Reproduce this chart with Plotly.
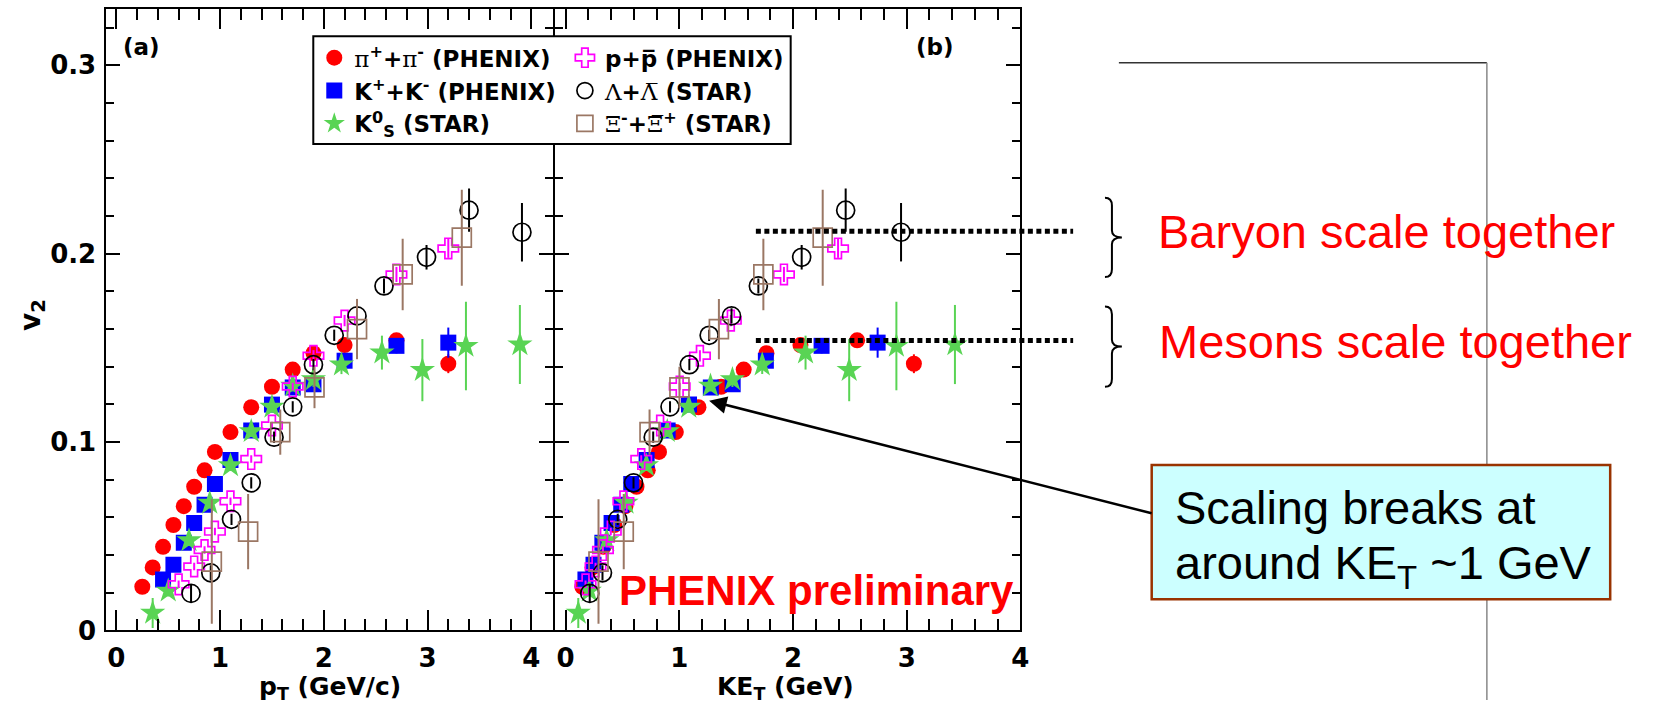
import plotly.graph_objects as go

W, H = 1655, 715

# ---------------- v2 data ----------------
# pi+ + pi- (PHENIX)
pi_pt = [0.25, 0.35, 0.45, 0.55, 0.65, 0.75, 0.85, 0.95, 1.1, 1.3, 1.5, 1.7, 1.9, 2.2, 2.7, 3.2]
pi_ket = [0.147, 0.237, 0.332, 0.428, 0.525, 0.623, 0.722, 0.821, 0.969, 1.168, 1.367, 1.566, 1.766, 2.065, 2.564, 3.063]
pi_v2 = [0.0232, 0.0335, 0.0444, 0.056, 0.066, 0.0763, 0.085, 0.0948, 0.1053, 0.1185, 0.1294, 0.1385, 0.1472, 0.1515, 0.154, 0.1416]
pi_err = [0.001, 0.001, 0.001, 0.001, 0.001, 0.001, 0.001, 0.001, 0.001, 0.001, 0.002, 0.002, 0.002, 0.003, 0.003, 0.005]

# K+ + K- (PHENIX)
k_pt = [0.45, 0.55, 0.65, 0.75, 0.85, 0.95, 1.1, 1.3, 1.5, 1.7, 1.9, 2.2, 2.7, 3.2]
k_ket = [0.174, 0.245, 0.323, 0.404, 0.489, 0.577, 0.712, 0.897, 1.085, 1.277, 1.469, 1.761, 2.251, 2.744]
k_v2 = [0.0271, 0.0349, 0.0466, 0.057, 0.0668, 0.0777, 0.0905, 0.1062, 0.1199, 0.129, 0.1307, 0.1432, 0.1511, 0.1528]
k_err = [0.002, 0.002, 0.002, 0.002, 0.002, 0.002, 0.002, 0.002, 0.002, 0.003, 0.003, 0.003, 0.004, 0.008]

# K0s (STAR)
ks_pt = [0.35, 0.5, 0.7, 0.9, 1.1, 1.3, 1.5, 1.7, 1.9, 2.17, 2.56, 2.95, 3.37, 3.89]
ks_ket = [0.111, 0.208, 0.361, 0.531, 0.710, 0.894, 1.083, 1.274, 1.467, 1.729, 2.110, 2.494, 2.909, 3.424]
ks_v2 = [0.0093, 0.0211, 0.0478, 0.0677, 0.0876, 0.1057, 0.1187, 0.1299, 0.1333, 0.1411, 0.1475, 0.1382, 0.151, 0.1518]
ks_err = [0.008, 0.003, 0.003, 0.003, 0.003, 0.003, 0.003, 0.003, 0.004, 0.005, 0.009, 0.0165, 0.0235, 0.021]

# p + pbar (PHENIX)
p_pt = [0.6, 0.75, 0.85, 0.95, 1.1, 1.3, 1.5, 1.7, 1.9, 2.2, 2.7, 3.2]
p_ket = [0.175, 0.263, 0.328, 0.397, 0.508, 0.665, 0.831, 1.003, 1.181, 1.453, 1.920, 2.396]
p_v2 = [0.0245, 0.034, 0.0427, 0.0525, 0.0686, 0.091, 0.1088, 0.1295, 0.1458, 0.1645, 0.189, 0.2028]
p_err = [0.002, 0.002, 0.002, 0.002, 0.002, 0.002, 0.002, 0.002, 0.003, 0.003, 0.004, 0.005]

# Lambda + Lambdabar (STAR)
lam_pt = [0.72, 0.91, 1.11, 1.3, 1.52, 1.7, 1.9, 2.1, 2.32, 2.58, 2.99, 3.4, 3.91]
lam_ket = [0.212, 0.324, 0.458, 0.597, 0.770, 0.918, 1.088, 1.262, 1.459, 1.695, 2.076, 2.463, 2.950]
lam_v2 = [0.0197, 0.0306, 0.059, 0.0784, 0.1026, 0.1187, 0.1411, 0.1567, 0.167, 0.1829, 0.1981, 0.2231, 0.2114]
lam_err = [0.005, 0.004, 0.003, 0.003, 0.003, 0.003, 0.003, 0.003, 0.004, 0.004, 0.0065, 0.0115, 0.0155]

# Xi- + Xibar+ (STAR)
xi_pt = [0.92, 1.27, 1.58, 1.91, 2.32, 2.76, 3.33]
xi_ket = [0.289, 0.511, 0.738, 1.001, 1.348, 1.739, 2.261]
xi_v2 = [0.0366, 0.0525, 0.1053, 0.129, 0.160, 0.189, 0.2085]
xi_err = [0.033, 0.02, 0.012, 0.011, 0.016, 0.019, 0.0255]

# scaling levels marked on the KE_T panel
baryon_level = 0.2119
meson_level = 0.1539

x_ticks = [0, 1, 2, 3, 4]
y_ticks = [0, 0.1, 0.2, 0.3]

GREEK = '<span style="font-family:DejaVu Serif;font-weight:normal">'
series = [
    dict(name=GREEK + "π</span><sup>+</sup>+" + GREEK + "π</span><sup>-</sup> (PHENIX)",
         pt=pi_pt, ket=pi_ket, v2=pi_v2, err=pi_err,
         symbol="circle", color="#FF0000", size=16, legend="legend"),
    dict(name="K<sup>+</sup>+K<sup>-</sup> (PHENIX)",
         pt=k_pt, ket=k_ket, v2=k_v2, err=k_err,
         symbol="square", color="#0000FF", size=16, legend="legend"),
    dict(name="K<sup>0</sup><sub>S</sub> (STAR)",
         pt=ks_pt, ket=ks_ket, v2=ks_v2, err=ks_err,
         symbol="star", color="#59D454", size=19, legend="legend"),
    dict(name="p+p\u0305 (PHENIX)",
         pt=p_pt, ket=p_ket, v2=p_v2, err=p_err,
         symbol="cross-open", color="#FF00FF", size=17, legend="legend2"),
    dict(name=GREEK + "Λ</span>+" + GREEK + "Λ\u0305</span> (STAR)",
         pt=lam_pt, ket=lam_ket, v2=lam_v2, err=lam_err,
         symbol="circle-open", color="#000000", size=18, legend="legend2"),
    dict(name=GREEK + "Ξ</span><sup>-</sup>+" + GREEK + "Ξ\u0305</span><sup>+</sup> (STAR)",
         pt=xi_pt, ket=xi_ket, v2=xi_v2, err=xi_err,
         symbol="square-open", color="#9B7764", size=19, legend="legend2"),
]


def px(x):
    return x / W


def py(y):
    return 1 - y / H


fig = go.Figure()
for s in series:
    for xs, xa, ya, show in ((s["pt"], "x", "y", True), (s["ket"], "x2", "y2", False)):
        fig.add_trace(go.Scatter(
            x=xs, y=s["v2"], mode="markers", xaxis=xa, yaxis=ya,
            name=s["name"], legend=s["legend"], legendgroup=s["name"], showlegend=show,
            marker=dict(symbol=s["symbol"], size=s["size"], color=s["color"],
                        line=dict(color=s["color"], width=1.7 if "open" in s["symbol"] else 0)),
            error_y=dict(type="data", array=s["err"], color=s["color"], thickness=2, width=0),
        ))

TICKFONT = dict(family="DejaVu Sans", size=26, weight="bold", color="black")

xcommon = dict(showline=True, linewidth=2, linecolor="black", mirror="allticks",
               ticks="inside", ticklen=20, tickwidth=2, tickcolor="black",
               tickmode="array", tickvals=x_ticks, showgrid=False, zeroline=False,
               tickfont=TICKFONT, ticklabelstandoff=3,
               minor=dict(ticks="inside", ticklen=11, tickwidth=1.5, tickcolor="black",
                          dtick=0.2, tick0=0, showgrid=False))
ycommon = dict(showline=True, linewidth=2, linecolor="black", mirror="allticks",
               ticks="inside", ticklen=14, tickwidth=2, tickcolor="black",
               tickmode="array", tickvals=y_ticks, showgrid=False, zeroline=False,
               range=[0, 0.33], domain=[py(644), py(9)],
               tickfont=TICKFONT, ticklabelstandoff=3,
               minor=dict(ticks="inside", ticklen=8, tickwidth=1.5, tickcolor="black",
                          dtick=0.02, tick0=0, showgrid=False))

LEGFONT = dict(family="DejaVu Sans", size=23, weight="bold", color="black")

# the two panels share one frame line at x = 557 px
fig.update_layout(
    width=W, height=H, margin=dict(l=0, r=0, t=0, b=0),
    paper_bgcolor="white", plot_bgcolor="white",
    xaxis=dict(xcommon, domain=[px(107), px(556)], range=[-0.096, 4.209], anchor="y"),
    xaxis2=dict(xcommon, domain=[px(558), px(1026)], range=[-0.094, 4.0], anchor="y2"),
    yaxis=dict(ycommon, anchor="x"),
    yaxis2=dict(ycommon, anchor="x2", matches="y", showticklabels=False),
    legend=dict(x=px(316), y=py(37), xanchor="left", yanchor="top", bgcolor="rgba(0,0,0,0)",
                font=LEGFONT, tracegroupgap=0, itemsizing="trace"),
    legend2=dict(x=px(568), y=py(37), xanchor="left", yanchor="top", bgcolor="rgba(0,0,0,0)",
                 font=LEGFONT, tracegroupgap=0, itemsizing="trace"),
)

shapes = []
# legend frame
shapes.append(dict(type="rect", xref="paper", yref="paper", x0=px(315), x1=px(795), y0=py(147), y1=py(37),
                   line=dict(color="black", width=2), fillcolor="white", layer="above"))
# dotted scaling levels
for lvl in (baryon_level, meson_level):
    shapes.append(dict(type="line", xref="paper", yref="y", x0=px(760), x1=px(1079), y0=lvl, y1=lvl,
                       line=dict(color="black", width=5, dash="5px,3.5px"), layer="above"))


def brace(top, bot, xl=1111, xm=1118, xt=1128):
    mid = (top + bot) / 2
    pts = [("M", xl, top), ("Q", xm, top, xm, top + 8), ("L", xm, mid - 7),
           ("Q", xm, mid, xt, mid), ("Q", xm, mid, xm, mid + 7), ("L", xm, bot - 8),
           ("Q", xm, bot, xl, bot)]
    out = []
    for p in pts:
        cmd, coords = p[0], p[1:]
        xy = []
        for i in range(0, len(coords), 2):
            xy.append("%.5f,%.5f" % (px(coords[i]), py(coords[i + 1])))
        out.append(cmd + " " + " ".join(xy))
    return " ".join(out)


for t, b in ((202, 283), (313, 395)):
    shapes.append(dict(type="path", xref="paper", yref="paper", path=brace(t, b),
                       line=dict(color="black", width=2)))

# frame lines at the right
shapes.append(dict(type="line", xref="paper", yref="paper", x0=px(1125), x1=px(1495), y0=py(64), y1=py(64),
                   line=dict(color="#333333", width=1.5)))
shapes.append(dict(type="line", xref="paper", yref="paper", x0=px(1495), x1=px(1495), y0=py(64), y1=0,
                   line=dict(color="#888888", width=1.5)))
# callout box
shapes.append(dict(type="rect", xref="paper", yref="paper", x0=px(1158), x1=px(1619), y0=py(612), y1=py(475),
                   line=dict(color="#993300", width=2.5), fillcolor="#CCFFFF"))
fig.update_layout(shapes=shapes)

ann = []


def text(s, x, y, size, family="DejaVu Sans", weight="bold", color="black", xanchor="center",
         yanchor="middle", angle=0):
    ann.append(dict(text=s, x=px(x), y=py(y), xref="paper", yref="paper", showarrow=False,
                    xanchor=xanchor, yanchor=yanchor, textangle=angle,
                    font=dict(family=family, size=size, weight=weight, color=color)))


text("(a)", 142, 47.5, 23)
text("(b)", 940, 48.5, 23)
text("p<sub>T</sub> (GeV/c)", 332, 684, 25, yanchor="top")
text("KE<sub>T</sub> (GeV)", 790, 684, 25, yanchor="top")
text("v<sub>2</sub>", 32, 322, 28, angle=-90)
text("PHENIX preliminary", 620, 615 - 0.905 * 42, 42, family="Liberation Sans", color="#FF0000",
     xanchor="left", yanchor="top")
text("Baryon scale together", 1162, 250 - 0.905 * 47, 47, family="Liberation Sans", weight="normal",
     color="#FF0000", xanchor="left", yanchor="top")
text("Mesons scale together", 1163, 362 - 0.905 * 47, 47, family="Liberation Sans", weight="normal",
     color="#FF0000", xanchor="left", yanchor="top")
text("Scaling breaks at", 1179, 532 - 0.905 * 47, 47, family="Liberation Sans", weight="normal",
     xanchor="left", yanchor="top")
text("around KE<sub>T</sub> ~1 GeV", 1179, 588 - 0.905 * 47, 47, family="Liberation Sans", weight="normal",
     xanchor="left", yanchor="top")

# arrow from the callout to the meson curve at KE_T ~ 1.26 GeV
ann.append(dict(text="", x=1.262, y=0.122, xref="x2", yref="y", showarrow=True,
                ax=1157 - 713, ay=522 - 409, axref="pixel", ayref="pixel",
                arrowhead=2, arrowsize=1.4, arrowwidth=2.5, arrowcolor="black"))
fig.update_layout(annotations=ann)

fig.write_html("out.html")
